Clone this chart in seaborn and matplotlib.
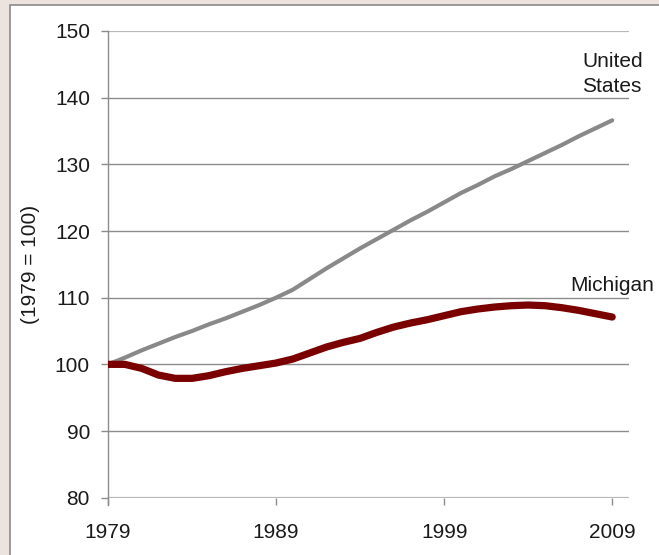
import matplotlib
matplotlib.use("Agg")
import matplotlib.pyplot as plt
from matplotlib.patches import Rectangle
import pandas as pd
import seaborn as sns

# Employment index, 1979 = 100
years = list(range(1979, 2010))
united_states = [100.0, 101.0, 102.1, 103.1, 104.1, 105.0, 106.0, 106.9, 107.9, 108.9,
                 110.0, 111.2, 112.8, 114.4, 115.9, 117.4, 118.8, 120.2, 121.6, 122.9,
                 124.3, 125.7, 126.9, 128.2, 129.3, 130.5, 131.7, 132.9, 134.2, 135.4,
                 136.6]
michigan = [100.0, 100.0, 99.4, 98.4, 97.9, 97.9, 98.3, 98.9, 99.4, 99.8,
            100.2, 100.8, 101.7, 102.6, 103.3, 103.9, 104.8, 105.6, 106.2, 106.7,
            107.3, 107.9, 108.3, 108.6, 108.8, 108.9, 108.8, 108.5, 108.1, 107.6,
            107.1]
x_ticks = [1979, 1989, 1999, 2009]
y_ticks = [80, 90, 100, 110, 120, 130, 140, 150]
series_names = ["United States", "Michigan"]

df = pd.DataFrame({
    "year": years * 2,
    "index": united_states + michigan,
    "series": [series_names[0]] * len(years) + [series_names[1]] * len(years),
})

sns.set_style("white")
plt.rcParams["font.family"] = ["Liberation Sans", "DejaVu Sans"]
text_color = "#1a1a1a"
grid_color = "#8c8c8c"

fig = plt.figure(figsize=(6.59, 5.55), dpi=100)
fig.patch.set_facecolor("#ece3de")
# white panel with a thin grey frame, kept beneath the axes
panel = Rectangle((10 / 659, -0.05), 1.0, 1 - 5 / 555 + 0.05,
                  transform=fig.transFigure, facecolor="white",
                  edgecolor="#8a8a8a", linewidth=1.2, zorder=-10)
fig.patches.append(panel)

ax = fig.add_axes([108 / 659, 1 - 497.7 / 555, (629 - 108) / 659, (497.7 - 31) / 555])
ax.set_zorder(5)
ax.set_facecolor("none")

sns.lineplot(data=df, x="year", y="index", hue="series", hue_order=series_names,
             palette={"United States": "#898989", "Michigan": "#7a0000"},
             size="series", sizes={"United States": 3.0, "Michigan": 5.2},
             size_order=series_names, legend=False, ax=ax,
             solid_capstyle="round", zorder=3)

ax.set_xlim(1979, 2010.0)
ax.set_ylim(80, 150)
ax.set_xticks(x_ticks)
ax.set_yticks(y_ticks)
ax.set_xticklabels([str(v) for v in x_ticks])
ax.set_yticklabels([str(v) for v in y_ticks])

for y in y_ticks:
    edge = y in (80, 150)
    ax.axhline(y, color="#b8b8b8" if edge else grid_color,
               linewidth=1.6 if edge else 1.0, zorder=1)

for side in ("top", "right", "bottom"):
    ax.spines[side].set_visible(False)
ax.spines["left"].set_color(grid_color)
ax.spines["left"].set_linewidth(1.0)
ax.spines["left"].set_bounds(78.9, 150)

ax.tick_params(axis="y", length=5, width=1.0, color=grid_color, pad=8,
               labelsize=15, labelcolor=text_color, left=True)
ax.tick_params(axis="x", length=5, width=1.0, color=grid_color, pad=13,
               labelsize=15, labelcolor=text_color, bottom=True)

ax.set_xlabel("")
ax.set_ylabel("(1979 = 100)", fontsize=15, color=text_color, labelpad=11)

ax.text(2009.0, 143.6, "United\nStates", ha="center", va="center",
        fontsize=15, color=text_color, linespacing=1.4)
ax.text(2006.5, 111.9, "Michigan", ha="left", va="center",
        fontsize=15, color=text_color, clip_on=False)

fig.savefig("out.png", dpi=100, facecolor=fig.get_facecolor())
